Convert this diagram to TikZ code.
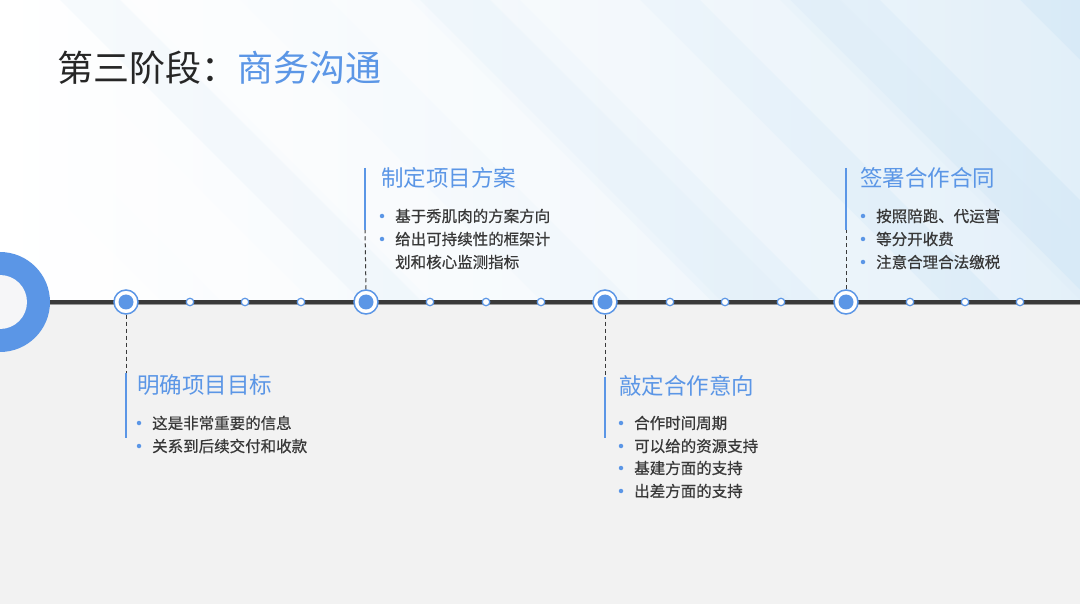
\documentclass[tikz,border=0pt]{standalone}
\usepackage{fontspec}
\setmainfont{Noto Sans CJK SC}
\newfontfamily\bulletfont[FakeBold=0.6]{Noto Sans CJK SC}
\definecolor{mblue}{HTML}{5B96E6}
\definecolor{mdark}{HTML}{3A3A3A}
\definecolor{mtext}{HTML}{383838}
\definecolor{mgray}{HTML}{F2F2F2}
\definecolor{mhole}{HTML}{F6F6F8}
\definecolor{skyA}{HTML}{D8EAF7}
\definecolor{skyB}{HTML}{F3F8FC}
\tikzset{
  major/.style={circle, draw=mblue, line width=1.5pt, fill=white, minimum size=24pt, inner sep=0pt},
  minor/.style={circle, draw=mblue, line width=1.2pt, fill=white, minimum size=7.5pt, inner sep=0pt},
  stitle/.style={anchor=west, text=mblue, font=\fontsize{22.5}{26}\selectfont, inner sep=0pt},
  btext/.style={anchor=west, text=mtext, font=\bulletfont\fontsize{15.5}{18}\selectfont, inner sep=0pt},
  bdot/.style={circle, fill=mblue, minimum size=4.5pt, inner sep=0pt},
  bar/.style={mblue, line width=2.5pt},
  dline/.style={mdark, line width=1pt, dash pattern=on 4pt off 3pt},
}
\begin{document}
\begin{tikzpicture}[x=1pt,y=-1pt]
\useasboundingbox (0,0) rectangle (1080,604);
% backgrounds
\fill[mgray] (0,302) rectangle (1080,604);
\shade[left color=white, right color=skyA, middle color=skyB] (0,0) rectangle (1080,302);
\begin{scope}
  \clip (0,0) rectangle (1080,302);
  \foreach \a/\w/\o in {-260/120/0.5, -80/90/0.45, 130/110/0.35, 330/80/0.35, 520/120/0.3, 700/90/0.3, 880/140/0.25}{
    \fill[white, opacity=\o] (\a,0) -- (\a+\w,0) -- (\a+\w+310,310) -- (\a+310,310) -- cycle;
  }
  \foreach \a/\w in {60/60, 420/70, 780/60}{
    \fill[skyA, opacity=0.18] (\a,0) -- (\a+\w,0) -- (\a+\w+310,310) -- (\a+310,310) -- cycle;
  }
\end{scope}
% heading
\node[anchor=west, inner sep=0pt, font=\fontsize{36}{40}\selectfont, text=black!85] (head) at (57,68) {第三阶段：\textcolor{mblue}{商务沟通}};
% timeline
\draw[black!40, line width=1pt] (48,304.2) -- (1080,304.2);
\draw[mdark, line width=3.2pt] (48,302) -- (1080,302);
% left ring
\fill[mblue] (0,302) circle (50);
\fill[mhole] (0,302) circle (27);
% markers
\node[major] (m1) at (126,302) {};
\node[major] (m2) at (366,302) {};
\node[major] (m3) at (605,302) {};
\node[major] (m4) at (846,302) {};
\foreach \n in {1,2,3,4}{\fill[mblue] (m\n.center) circle (7.5);}
\foreach \x [count=\i] in {190,245,301,430,486,541,670,725,781,910,965,1020}{
  \node[minor] (s\i) at (\x,302) {};
}
% connectors
\coordinate (b1t) at (126,373); \coordinate (b1b) at (126,438);
\coordinate (b2t) at (365,168); \coordinate (b2b) at (365,230);
\coordinate (b3t) at (605,377); \coordinate (b3b) at (605,438);
\coordinate (b4t) at (846,168); \coordinate (b4b) at (846,230);
\draw[dline] (m1.south) -- (b1t);
\draw[dline] (m2.north) -- (b2b);
\draw[dline] (m3.south) -- (b3t);
\draw[dline] (m4.north) -- (b4b);
\draw[bar] (b1t) -- (b1b);
\draw[bar] (b2t) -- (b2b);
\draw[bar] (b3t) -- (b3b);
\draw[bar] (b4t) -- (b4b);
% milestone 2
\node[stitle] (t2) at (381,178) {制定项目方案};
\node[bdot] (d21) at (382,216) {}; \node[btext] (l21) at (395,216) {基于秀肌肉的方案方向};
\node[bdot] (d22) at (382,239) {}; \node[btext] (l22) at (395,239) {给出可持续性的框架计};
\node[btext] (l23) at (395,262) {划和核心监测指标};
% milestone 4
\node[stitle] (t4) at (860,178) {签署合作合同};
\node[bdot] (d41) at (863,216) {}; \node[btext] (l41) at (876,216) {按照陪跑、代运营};
\node[bdot] (d42) at (863,239) {}; \node[btext] (l42) at (876,239) {等分开收费};
\node[bdot] (d43) at (863,262) {}; \node[btext] (l43) at (876,262) {注意合理合法缴税};
% milestone 1
\node[stitle] (t1) at (137,385) {明确项目目标};
\node[bdot] (d11) at (139,423) {}; \node[btext] (l11) at (152,423) {这是非常重要的信息};
\node[bdot] (d12) at (139,446) {}; \node[btext] (l12) at (152,446) {关系到后续交付和收款};
% milestone 3
\node[stitle] (t3) at (619,386) {敲定合作意向};
\node[bdot] (d31) at (621,423) {}; \node[btext] (l31) at (634,423) {合作时间周期};
\node[bdot] (d32) at (621,446) {}; \node[btext] (l32) at (634,446) {可以给的资源支持};
\node[bdot] (d33) at (621,468) {}; \node[btext] (l33) at (634,468) {基建方面的支持};
\node[bdot] (d34) at (621,491) {}; \node[btext] (l34) at (634,491) {出差方面的支持};
\end{tikzpicture}
\end{document}
